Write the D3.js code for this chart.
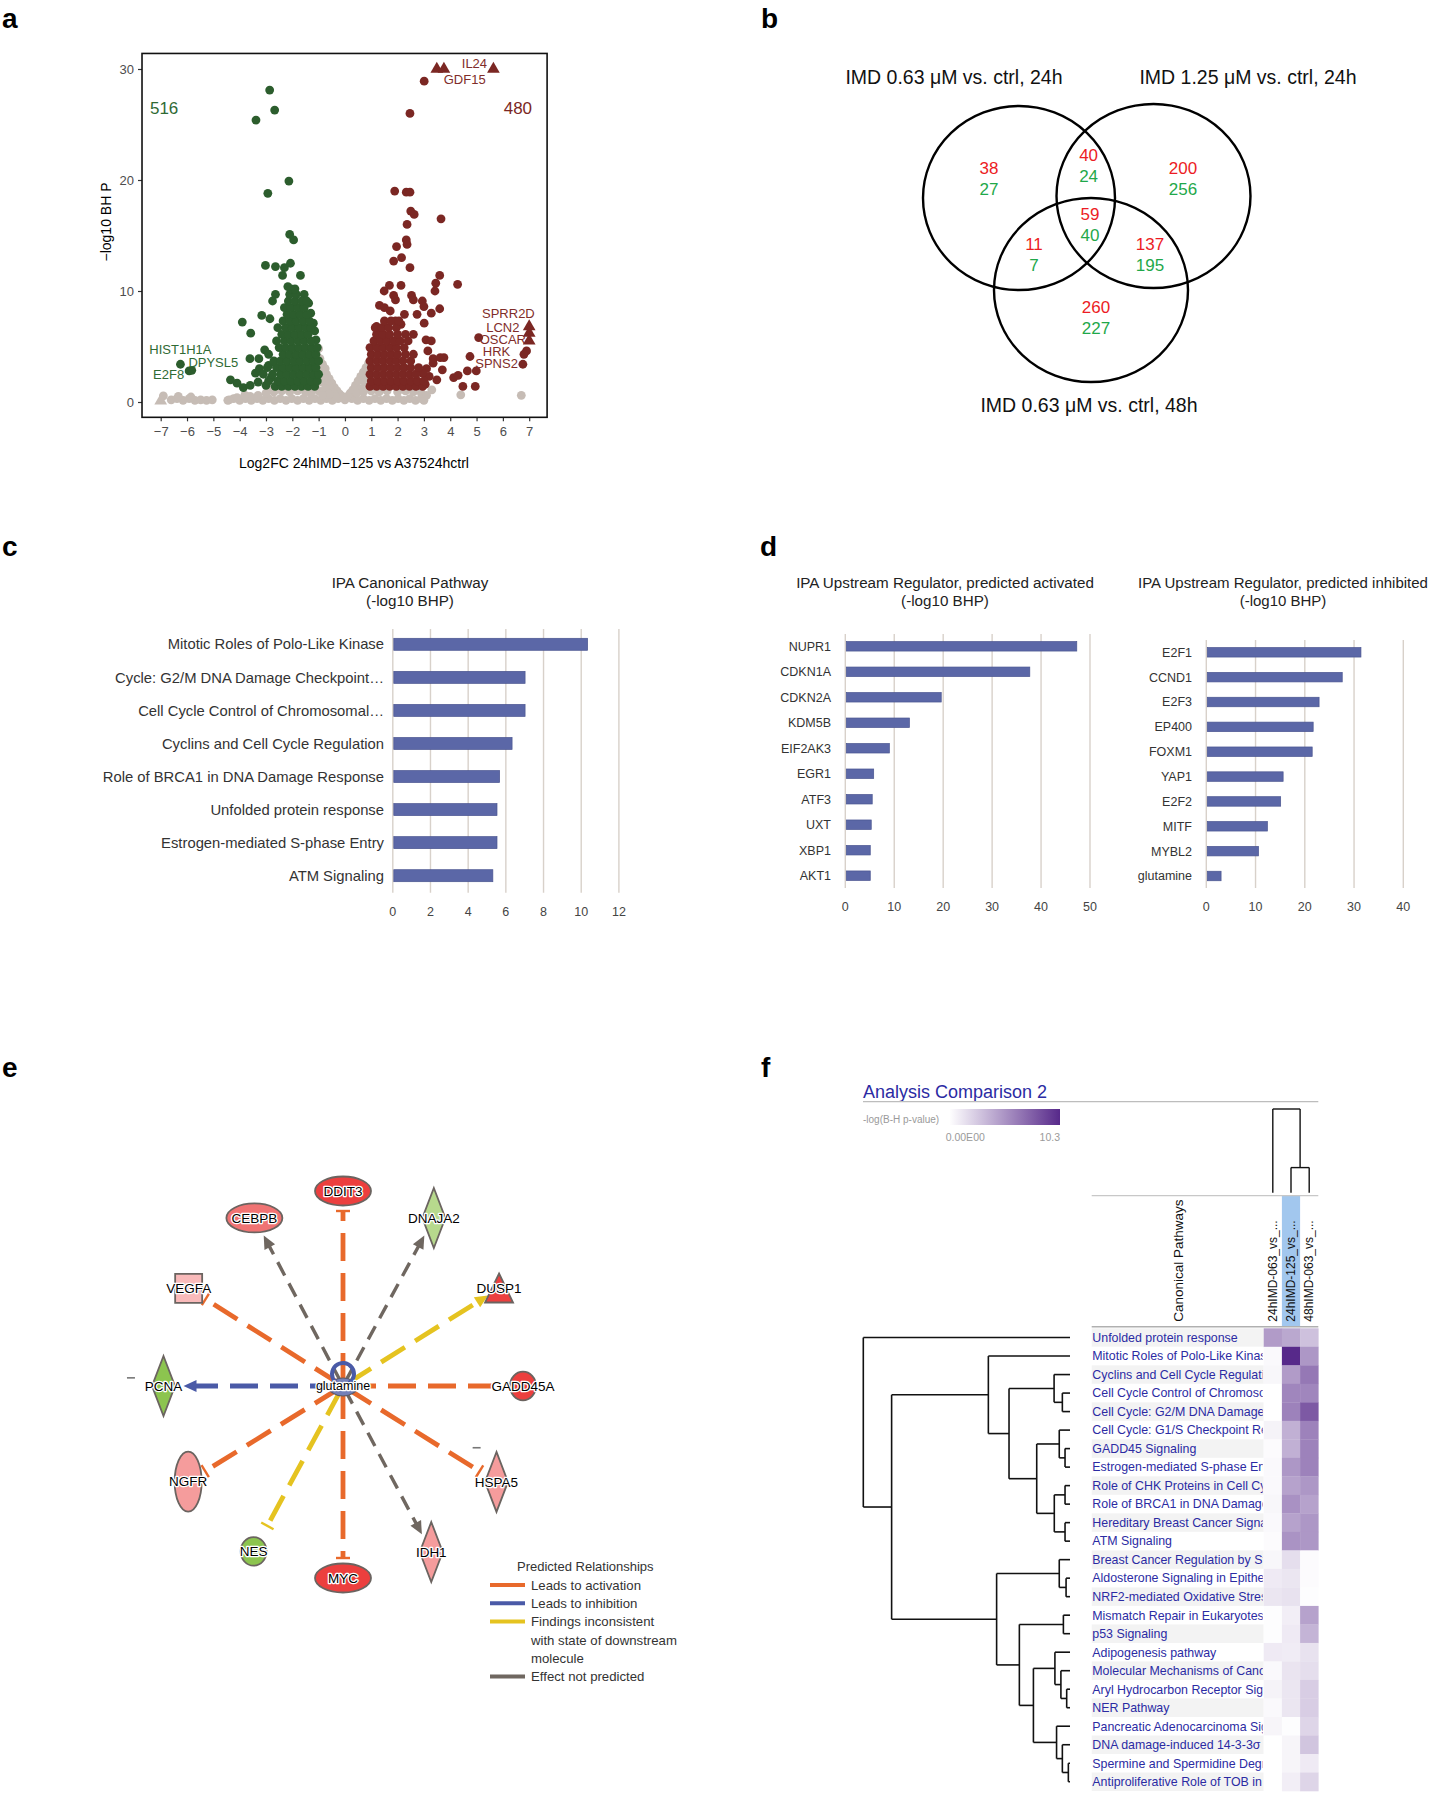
<!DOCTYPE html>
<html><head><meta charset="utf-8">
<script src="https://cdn.jsdelivr.net/npm/d3@7"></script>
<style>
body{margin:0;background:#fff;}
svg{display:block;}
</style></head><body>
<svg id="fig" width="1436" height="1800"></svg>
<script>
// ================= DATA =================
// --- panel a: volcano plot (log2FC, -log10 BH P) ---
const volcanoXTicks = [-7,-6,-5,-4,-3,-2,-1,0,1,2,3,4,5,6,7];
const volcanoYTicks = [0,10,20,30];
const volcanoDown = [
 [-2.86,28.1],[-2.67,26.3],[-3.38,25.4],[-2.13,19.9],[-2.93,18.8],[-2.1,15.1],[-1.95,14.6],[-3.02,12.3],[-2.64,12.2],[-2.3,12.1],
 [-2.07,12.5],[-1.69,11.4],[-2.37,11.4],[-2.17,10.4],[-2.64,9.7],[-1.55,9.7],[-2.75,9.1],[-1.38,8.9],[-3.16,7.8],[-2.85,7.5],
 [-3.9,7.2],[-3.58,6.2],[-3.05,4.7],[-3.27,3.9],[-3.61,3.9],[-3.4,2.6],[-4.35,2.0],[-4.1,1.7],[-3.86,1.3],[-6.25,3.4],[-5.92,2.8],[-5.82,2.85],
 [-3.25,3.0],[-2.9,3.3],[-3.6,1.5],[-3.3,1.8],[-2.8,2.2],[-3.0,1.5],[-2.65,1.4],[-1.3,8.0],[-1.2,7.1],[-1.15,6.4],[-1.1,5.6],
 [-2.4,1.4],[-2.15,1.4],[-1.9,1.4],[-1.65,1.4],[-1.4,1.4],[-1.15,1.4],
 [-2.9,1.9],[-2.55,1.9],[-2.3,1.9],[-2.05,1.9],[-1.8,1.9],[-1.55,1.9],[-1.3,1.9],[-1.05,1.9],
 [-3.1,2.5],[-2.75,2.5],[-2.45,2.5],[-2.2,2.5],[-1.95,2.5],[-1.7,2.5],[-1.45,2.5],[-1.2,2.5],[-1.0,2.5],
 [-2.95,3.1],[-2.6,3.1],[-2.35,3.1],[-2.1,3.1],[-1.85,3.1],[-1.6,3.1],[-1.35,3.1],[-1.1,3.1],
 [-2.7,3.7],[-2.45,3.7],[-2.2,3.7],[-1.95,3.7],[-1.7,3.7],[-1.45,3.7],[-1.2,3.7],[-1.0,3.7],
 [-2.9,4.3],[-2.35,4.3],[-2.1,4.3],[-1.85,4.3],[-1.6,4.3],[-1.35,4.3],[-1.1,4.3],
 [-2.5,4.9],[-2.25,4.9],[-2.0,4.9],[-1.75,4.9],[-1.5,4.9],[-1.25,4.9],[-1.05,4.9],
 [-2.6,5.5],[-2.3,5.5],[-2.05,5.5],[-1.8,5.5],[-1.55,5.5],[-1.3,5.5],
 [-2.4,6.1],[-2.15,6.1],[-1.9,6.1],[-1.65,6.1],[-1.4,6.1],
 [-2.55,6.7],[-2.25,6.7],[-2.0,6.7],[-1.75,6.7],[-1.5,6.7],[-1.3,6.7],
 [-2.35,7.3],[-2.1,7.3],[-1.85,7.3],[-1.6,7.3],[-1.35,7.3],
 [-2.2,7.9],[-1.95,7.9],[-1.7,7.9],[-1.45,7.9],
 [-2.3,8.5],[-2.05,8.5],[-1.8,8.5],[-1.55,8.5],
 [-2.15,9.1],[-1.9,9.1],[-1.65,9.1],[-1.45,9.1],
 [-2.1,9.7],[-1.85,9.7],[-2.05,10.2],[-1.9,10.2]
];
const volcanoUp = [
 [3.01,28.9],[2.47,26.0],[1.89,19.0],[2.33,18.9],[2.47,18.9],[2.5,17.2],[2.63,16.9],[3.65,16.5],[2.36,16.0],[2.33,14.6],
 [2.36,14.2],[1.96,14.0],[2.15,13.0],[1.85,12.7],[2.47,12.1],[3.6,11.4],[4.28,10.6],[3.45,10.7],[1.69,10.5],[2.13,10.5],
 [3.42,10.0],[1.49,10.0],[1.85,9.6],[1.92,9.2],[2.53,9.6],[2.6,9.2],[2.94,9.1],[3.0,8.6],[1.31,8.7],[1.5,8.5],[1.72,8.2],
 [3.6,8.4],[3.28,8.0],[2.26,7.9],[1.92,7.3],[2.13,7.0],[2.74,7.9],[3.01,7.1],[1.2,6.8],[1.31,6.2],[2.6,6.1],[3.08,5.6],
 [3.28,5.5],[3.15,4.6],[3.35,3.9],[3.62,4.0],[3.76,4.0],[3.35,3.5],[3.7,2.9],[3.49,2.0],[4.13,2.2],[4.3,2.4],[4.48,1.4],
 [4.65,2.8],[4.99,2.8],[4.75,4.1],[4.95,1.4],[5.08,5.8],[6.9,4.6],[6.8,4.3],[6.76,3.4],[3.1,3.0],[3.2,2.3],[2.95,2.6],[3.05,1.6],
 [0.95,1.4],[1.2,1.4],[1.45,1.4],[1.7,1.4],[1.95,1.4],[2.2,1.4],[2.45,1.4],[2.7,1.4],[2.95,1.4],
 [1.0,1.9],[1.25,1.9],[1.5,1.9],[1.75,1.9],[2.0,1.9],[2.25,1.9],[2.5,1.9],[2.75,1.9],[3.0,1.9],
 [0.95,2.5],[1.2,2.5],[1.45,2.5],[1.7,2.5],[1.95,2.5],[2.2,2.5],[2.45,2.5],[2.7,2.5],
 [1.0,3.1],[1.25,3.1],[1.5,3.1],[1.75,3.1],[2.0,3.1],[2.25,3.1],[2.5,3.1],[2.8,3.1],
 [0.95,3.7],[1.2,3.7],[1.45,3.7],[1.7,3.7],[1.95,3.7],[2.2,3.7],[2.5,3.7],
 [1.0,4.3],[1.25,4.3],[1.5,4.3],[1.75,4.3],[2.0,4.3],[2.3,4.3],[2.6,4.3],
 [0.95,4.9],[1.2,4.9],[1.45,4.9],[1.7,4.9],[1.95,4.9],[2.25,4.9],
 [1.1,5.5],[1.35,5.5],[1.6,5.5],[1.85,5.5],[2.1,5.5],[2.4,5.5],
 [1.2,6.1],[1.45,6.1],[1.7,6.1],[2.0,6.1],[2.3,6.1],
 [1.15,6.7],[1.4,6.7],[1.65,6.7],[1.95,6.7],[1.5,7.3],[1.75,7.3],[2.05,7.3]
];
const volcanoUpCapped = [[3.49,30],[3.76,30],[5.64,30],[7,6.8],[7,6.2],[7,5.5]];
const volcanoNS = [
 [-6.6,0.2],[-6.38,0.3],[-6.15,0.15],[-5.92,0.3],[-5.7,0.15],[-5.48,0.2],[-5.26,0.15],[-5.04,0.2],
 [-4.45,0.15],[-4.23,0.3],[-4.0,0.15],[-3.78,0.3],[-3.56,0.15],[-3.34,0.3],[-3.12,0.15],[-2.9,0.3],[-2.68,0.15],[-2.46,0.3],
 [-2.24,0.15],[-2.02,0.3],[-1.8,0.15],[-1.58,0.3],[-1.36,0.15],[-1.14,0.3],[-0.92,0.15],[-0.7,0.3],[-0.48,0.15],[-0.26,0.3],
 [0.0,0.2],[0.26,0.3],[0.48,0.15],[0.7,0.3],[0.92,0.15],[1.14,0.3],[1.36,0.15],[1.58,0.3],[1.8,0.15],[2.02,0.3],[2.24,0.15],
 [2.46,0.3],[2.68,0.15],[2.9,0.3],[3.0,0.15],
 [-1.0,4.8],[-1.1,4.3],[-0.95,3.9],[-0.85,3.4],[-0.75,3.0],[-0.7,2.5],[-0.6,2.1],[-0.5,1.7],[-0.4,1.3],[-0.3,1.0],[-0.2,0.7],
 [-0.1,0.5],[-0.9,2.8],[-0.8,2.2],[-0.65,1.6],[-0.55,1.2],[-0.45,0.8],[-0.35,0.5],[-1.0,3.5],[-0.9,1.8],[-0.75,1.2],[-0.6,0.7],
 [-1.0,1.0],[-0.85,0.6],[-1.15,2.0],[-1.2,1.2],[-1.3,0.8],[-1.5,0.9],[-1.8,1.0],[-2.1,0.9],[-2.4,1.0],[-2.7,0.9],[-2.85,1.25],
 [-3.0,0.8],[-3.3,0.6],[-3.6,0.5],[-3.8,0.6],[-4.1,0.4],
 [0.1,0.5],[0.2,0.8],[0.3,1.1],[0.4,1.5],[0.5,1.9],[0.6,2.3],[0.7,2.7],[0.8,3.1],[0.9,3.5],[0.75,1.8],[0.6,1.2],[0.45,0.8],
 [0.85,2.4],[0.95,2.9],[0.9,1.5],[0.7,0.9],[1.0,1.0],[1.3,0.9],[1.6,1.0],[2.0,0.9],[2.3,1.0],[2.6,0.9],[2.9,0.8],[3.1,0.6],[3.3,1.1],
 [-6.9,0.55],[-6.33,0.5],[-5.85,0.45],[-4.4,0.2],[-3.8,0.6],[4.4,0.65],[6.7,0.6]
];
const volcanoNSCapped = [[-7,0.1]];
const volcanoCounts = [{text:"516", x:-6.87, y:26.5, dir:"down"},{text:"480", x:6.57, y:26.5, dir:"up"}];
const volcanoGenes = [
 {gene:"IL24", x:4.92, y:30.5, dir:"up"},{gene:"GDF15", x:4.55, y:29.1, dir:"up"},
 {gene:"SPRR2D", x:6.21, y:8.0, dir:"up"},{gene:"LCN2", x:6.0, y:6.7, dir:"up"},
 {gene:"OSCAR", x:6.0, y:5.6, dir:"up"},{gene:"HRK", x:5.76, y:4.55, dir:"up"},
 {gene:"SPNS2", x:5.76, y:3.45, dir:"up"},{gene:"HIST1H1A", x:-6.25, y:4.7, dir:"down"},
 {gene:"DPYSL5", x:-5.0, y:3.6, dir:"down"},{gene:"E2F8", x:-6.7, y:2.5, dir:"down"}
];

// --- panel b: Venn ---
const vennSets = ["IMD 0.63 μM vs. ctrl, 24h","IMD 1.25 μM vs. ctrl, 24h","IMD 0.63 μM vs. ctrl, 48h"];
const vennRegions = ["A","AB","B","ABC","AC","BC","C"];
const vennUp   = [38,40,200,59,11,137,260];
const vennDown = [27,24,256,40,7,195,227];

// --- panel c: IPA canonical pathways ---
const pathwayNames = ["Mitotic Roles of Polo-Like Kinase","Cycle: G2/M DNA Damage Checkpoint…","Cell Cycle Control of Chromosomal…",
 "Cyclins and Cell Cycle Regulation","Role of BRCA1 in DNA Damage Response","Unfolded protein response",
 "Estrogen-mediated S-phase Entry","ATM Signaling"];
const pathwayValues = [10.34,7.02,7.02,6.33,5.67,5.53,5.53,5.31];
const pathwayTicks = [0,2,4,6,8,10,12];

// --- panel d: upstream regulators ---
const activatedNames = ["NUPR1","CDKN1A","CDKN2A","KDM5B","EIF2AK3","EGR1","ATF3","UXT","XBP1","AKT1"];
const activatedValues = [47.3,37.7,19.6,13.1,9.0,5.8,5.5,5.3,5.1,5.1];
const activatedTicks = [0,10,20,30,40,50];
const inhibitedNames = ["E2F1","CCND1","E2F3","EP400","FOXM1","YAP1","E2F2","MITF","MYBL2","glutamine"];
const inhibitedValues = [31.4,27.6,22.9,21.7,21.5,15.6,15.1,12.4,10.6,3.0];
const inhibitedTicks = [0,10,20,30,40];

// --- panel e: network around glutamine ---
const networkHub = "glutamine";
const networkNodes = ["DDIT3","DNAJA2","DUSP1","GADD45A","HSPA5","IDH1","MYC","NES","NGFR","PCNA","VEGFA","CEBPB"];
const networkShapes = ["ellipseH","diamond","triangle","circle","diamond","diamond","ellipseH","circle","ellipseV","diamond","square","ellipseH"];
const networkState = ["up3","down1","up3","up3","up1","up1","up3","down2","up1","down2","up0","up2"];
const networkRelation = ["activation","none","inconsistent","activation","activation","none","activation","inconsistent","activation","inhibition","activation","none"];
const networkEnd = ["tbar","arrow","arrow","plain","tbar","arrow","tbar","tbar","tbar","arrow","tbar","arrow"];
const legendRelations = [["Leads to activation"],["Leads to inhibition"],["Findings inconsistent","with state of downstream","molecule"],["Effect not predicted"]];
const legendKeys = ["activation","inhibition","inconsistent","none"];

// --- panel f: comparison heatmap ---
const heatColumns = ["24hIMD-063_vs_...","24hIMD-125_vs_...","48hIMD-063_vs_..."];
const heatRows = ["Unfolded protein response","Mitotic Roles of Polo-Like Kinase","Cyclins and Cell Cycle Regulation",
 "Cell Cycle Control of Chromosomal Replication","Cell Cycle: G2/M DNA Damage Checkpoint Regulation",
 "Cell Cycle: G1/S Checkpoint Regulation","GADD45 Signaling","Estrogen-mediated S-phase Entry",
 "Role of CHK Proteins in Cell Cycle Checkpoint Control","Role of BRCA1 in DNA Damage Response",
 "Hereditary Breast Cancer Signaling","ATM Signaling","Breast Cancer Regulation by Stathmin1",
 "Aldosterone Signaling in Epithelial Cells","NRF2-mediated Oxidative Stress Response","Mismatch Repair in Eukaryotes",
 "p53 Signaling","Adipogenesis pathway","Molecular Mechanisms of Cancer","Aryl Hydrocarbon Receptor Signaling",
 "NER Pathway","Pancreatic Adenocarcinoma Signaling","DNA damage-induced 14-3-3σ Signaling",
 "Spermine and Spermidine Degradation I","Antiproliferative Role of TOB in T Cell Signaling"];
const heat24h063 = [4.8,0.3,0.4,0,0,0.6,0.2,0.3,0.3,0.4,0.3,0.2,0.4,1.0,1.2,0.1,0.1,1.0,0.3,0.6,0.3,0.5,0,0,0];
const heat24h125 = [4.2,10.3,4.8,5.8,6.0,3.8,3.8,5.0,4.5,5.3,4.5,5.2,1.6,1.2,1.4,0.8,1.0,0.9,1.3,1.2,1.2,0.1,0.5,0.5,0.8];
const heat48h063 = [3.0,5.0,6.5,5.8,8.0,6.0,6.0,6.0,5.0,4.5,5.0,5.0,0.2,0.2,0.1,4.5,3.6,1.4,1.6,2.4,2.4,2.0,2.8,1.0,2.0];
const heatMax = 10.3;
// row dendrogram: leaves are indices into heatRows, h = merge distance
const rowTree = {h:1.0, c:[0, {h:0.863, c:[
  {h:0.395, c:[1, {h:0.295, c:[
     {h:0.077, c:[2, {h:0.037, c:[3,4]}]},
     {h:0.161, c:[ {h:0.052, c:[5, {h:0.024, c:[6,7]}]}, {h:0.076, c:[{h:0.024, c:[8,9]}, {h:0.024, c:[10,11]}]} ]}
  ]}]},
  {h:0.355, c:[
     {h:0.052, c:[12, {h:0.019, c:[13,14]}]},
     {h:0.245, c:[ {h:0.032, c:[15,16]},
        {h:0.177, c:[ {h:0.073, c:[17, {h:0.044, c:[18, {h:0.016, c:[19,20]}]}]},
                      {h:0.065, c:[21, {h:0.037, c:[22, {h:0.008, c:[23,24]}]}]} ]} ]}
  ]}
]}]};
const colTree = {h:1.0, c:[0, {h:0.30, c:[1,2]}]};

// ================= DRAWING =================
const FONT = "'Liberation Sans', Arial, Helvetica, sans-serif";
const svg = d3.select("#fig").style("font-family", FONT);
svg.append("rect").attr("width",1436).attr("height",1800).attr("fill","#fff");

// panel letters
[["a",2,28],["b",761,28],["c",2,556],["d",760,556],["e",2,1077],["f",761,1077]].forEach(([t,x,y])=>{
  svg.append("text").attr("x",x).attr("y",y).text(t).attr("font-weight","bold").attr("font-size",28).attr("fill","#000");
});

// ---------- Panel a ----------
(function(){
  const GREEN="#2c5d2d", RED="#7b2723", GREY="#c6bcb5";
  const xA = d3.scaleLinear().domain([-7,7]).range([160.7,529.2]);
  const yA = d3.scaleLinear().domain([0,30]).range([402,69]);
  const g = svg.append("g");
  const fx0=xA(-7.71), fx1=xA(7.68), fy0=yA(31.4), fy1=yA(-1.38);
  const styleAxis = a => { a.select(".domain").remove();
    a.selectAll("line").attr("stroke","#333").attr("stroke-width",1.2);
    a.selectAll("text").attr("fill","#4d4d4d").attr("font-size",13).attr("font-family",FONT); };
  g.append("g").attr("transform",`translate(0,${fy1})`)
    .call(d3.axisBottom(xA).tickValues(volcanoXTicks).tickSize(4).tickPadding(5)).call(styleAxis);
  g.append("g").attr("transform",`translate(${fx0},0)`)
    .call(d3.axisLeft(yA).tickValues(volcanoYTicks).tickSize(4).tickPadding(4)).call(styleAxis);
  const dot = (data, col) => g.append("g").selectAll("circle").data(data).join("circle")
      .attr("cx",d=>xA(d[0])).attr("cy",d=>yA(d[1])).attr("r",4.4).attr("fill",col);
  dot(volcanoNS, GREY);
  dot(volcanoDown, GREEN);
  dot(volcanoUp, RED);
  g.append("g").selectAll("text").data(volcanoGenes).join("text")
    .attr("x",d=>xA(d.x)).attr("y",d=>yA(d.y)).attr("dy","0.35em").attr("text-anchor","middle")
    .attr("font-size",13).attr("fill",d=>d.dir==="up"?"#7f2d2a":"#2f6a34").text(d=>d.gene);
  const tri = d3.symbol(d3.symbolTriangle, 70);
  g.append("g").selectAll("path").data(volcanoUpCapped).join("path").attr("d",tri)
    .attr("transform",d=>`translate(${xA(d[0])},${yA(d[1])})`).attr("fill",RED);
  g.append("g").selectAll("path").data(volcanoNSCapped).join("path").attr("d",tri)
    .attr("transform",d=>`translate(${xA(d[0])},${yA(d[1])})`).attr("fill",GREY);
  g.append("g").selectAll("text").data(volcanoCounts).join("text")
    .attr("x",d=>xA(d.x)).attr("y",d=>yA(d.y)).attr("dy","0.35em").attr("text-anchor","middle")
    .attr("font-size",17).attr("fill",d=>d.dir==="up"?RED:"#2f6a34").text(d=>d.text);
  g.append("rect").attr("x",fx0).attr("y",fy0).attr("width",fx1-fx0).attr("height",fy1-fy0)
    .attr("fill","none").attr("stroke","#111").attr("stroke-width",1.6);
  g.append("text").attr("x",354).attr("y",463).attr("dy","0.35em").attr("text-anchor","middle")
    .attr("font-size",14).text("Log2FC 24hIMD\u2212125 vs A37524hctrl");
  g.append("text").attr("transform","translate(106,222) rotate(-90)").attr("dy","0.35em").attr("text-anchor","middle")
    .attr("font-size",14).text("\u2212log10 BH P");
})();

// ---------- Panel b ----------
(function(){
  const g = svg.append("g");
  const circles = [{cx:1019,cy:198,rx:96,ry:92},{cx:1153.5,cy:196,rx:97,ry:92},{cx:1091,cy:290,rx:97,ry:92}];
  g.selectAll("ellipse").data(circles).join("ellipse")
    .attr("cx",d=>d.cx).attr("cy",d=>d.cy).attr("rx",d=>d.rx).attr("ry",d=>d.ry)
    .attr("fill","none").attr("stroke","#000").attr("stroke-width",2.4);
  const titlePos = [[954,77],[1248,77],[1089,405]];
  g.selectAll("text.t").data(vennSets).join("text").attr("class","t")
    .attr("x",(d,i)=>titlePos[i][0]).attr("y",(d,i)=>titlePos[i][1]).attr("dy","0.35em")
    .attr("text-anchor","middle").attr("font-size",19.5).attr("fill","#111").text(d=>d);
  const regionPos = {A:[989,178.5],AB:[1088.6,165.5],B:[1183,178.5],ABC:[1090,224.5],AC:[1034,254.5],BC:[1150,254.5],C:[1096,317.5]};
  vennRegions.forEach((r,i)=>{
    const [x,y]=regionPos[r];
    g.append("text").attr("x",x).attr("y",y-10.5).attr("dy","0.35em").attr("text-anchor","middle")
      .attr("font-size",17).attr("fill","#ec1c24").text(vennUp[i]);
    g.append("text").attr("x",x).attr("y",y+10.5).attr("dy","0.35em").attr("text-anchor","middle")
      .attr("font-size",17).attr("fill","#1fa84a").text(vennDown[i]);
  });
})();

// ---------- bar chart helper (panels c, d) ----------
const BAR="#5b67a7", GRID="#d8d1ca";
function barChart(o){
  const g = svg.append("g");
  const x = d3.scaleLinear().domain([0,o.ticks[o.ticks.length-1]]).range(o.xr);
  const y = d3.scalePoint().domain(o.names).range(o.yr);
  g.selectAll("line.grid").data(o.ticks).join("line").attr("class","grid")
    .attr("x1",d=>x(d)).attr("x2",d=>x(d)).attr("y1",o.gy[0]).attr("y2",o.gy[1])
    .attr("stroke",GRID).attr("stroke-width",1.4);
  g.selectAll("rect").data(o.values).join("rect")
    .attr("x",x(0)+1).attr("y",(d,i)=>y(o.names[i])-o.bh/2).attr("width",d=>x(d)-x(0)-1).attr("height",o.bh)
    .attr("fill",BAR).attr("stroke","#4a5590").attr("stroke-width",0.7);
  g.selectAll("text.cat").data(o.names).join("text").attr("class","cat")
    .attr("x",o.lx).attr("y",d=>y(d)).attr("dy","0.35em").attr("text-anchor","end")
    .attr("font-size",o.fs).attr("fill","#333").text(d=>d);
  g.selectAll("text.tick").data(o.ticks).join("text").attr("class","tick")
    .attr("x",d=>x(d)).attr("y",o.ty).attr("dy","0.35em").attr("text-anchor","middle")
    .attr("font-size",12.5).attr("fill","#444").text(d=>d);
  o.title.forEach((t,i)=>g.append("text").attr("x",o.tx).attr("y",582.5+i*18).attr("dy","0.35em")
    .attr("text-anchor","middle").attr("font-size",o.tfs).attr("fill","#222").text(t));
}
barChart({names:pathwayNames, values:pathwayValues, ticks:pathwayTicks, xr:[392.8,618.9], yr:[644.3,875.7],
  gy:[629,892.7], bh:12, lx:384, fs:14.8, ty:911.7, tx:410, tfs:15.2, title:["IPA Canonical Pathway","(-log10 BHP)"]});
barChart({names:activatedNames, values:activatedValues, ticks:activatedTicks, xr:[845.3,1090], yr:[646.3,875.7],
  gy:[634,888], bh:9.5, lx:831, fs:12.5, ty:906.7, tx:945, tfs:15.2, title:["IPA Upstream Regulator, predicted activated","(-log10 BHP)"]});
barChart({names:inhibitedNames, values:inhibitedValues, ticks:inhibitedTicks, xr:[1206.3,1403.3], yr:[652.3,876],
  gy:[640,888], bh:9.5, lx:1192, fs:12.5, ty:906.7, tx:1283, tfs:15, title:["IPA Upstream Regulator, predicted inhibited","(-log10 BHP)"]});

// ---------- Panel e ----------
(function(){
  const g = svg.append("g");
  const C = [343,1386];
  const layout = {DDIT3:[0,195],DNAJA2:[28.4,191],DUSP1:[58,184],GADD45A:[90,180],HSPA5:[122,181],IDH1:[152,188],
    MYC:[180,192],NES:[-151.6,188],NGFR:[-121.7,182],PCNA:[-90,179.5],VEGFA:[-57.7,182.6],CEBPB:[-27.8,190]};
  const pos = (a,r)=>{ const p=d3.pointRadial(a*Math.PI/180,r); return [C[0]+p[0],C[1]+p[1]]; };
  const relColor = {activation:"#e8692b",inhibition:"#4a5aa7",inconsistent:"#e5c320",none:"#6f6760"};
  const fillState = {up3:"#ec3f3e",up2:"#f07373",up1:"#f59c9c",up0:"#f9baba",down2:"#8cc44f",down1:"#b7d98d"};
  const endGap = {triangle:13, circle:29};
  // edges
  networkNodes.forEach((n,i)=>{
    const [a,r]=layout[n]; const rel=networkRelation[i]; const col=relColor[rel]; const end=networkEnd[i];
    const rEnd = r - (endGap[networkShapes[i]] || 20);
    const lineEnd = end==="arrow" ? rEnd-9 : rEnd;
    const p0=pos(a,5), p1=pos(a,lineEnd);
    g.append("line").attr("x1",p0[0]).attr("y1",p0[1]).attr("x2",p1[0]).attr("y2",p1[1])
      .attr("stroke",col).attr("stroke-width",rel==="none"?3.4:4.8)
      .attr("stroke-dasharray",rel==="none"?"15 9":"28 12");
    const rad=a*Math.PI/180, ux=Math.sin(rad), uy=-Math.cos(rad), px=-uy, py=ux;
    const tip=pos(a,rEnd);
    if(end==="arrow"){
      const b=pos(a,rEnd-13);
      g.append("path").attr("d",`M${tip[0]},${tip[1]}L${b[0]+px*6},${b[1]+py*6}L${b[0]-px*6},${b[1]-py*6}Z`).attr("fill",col);
    } else if(end==="tbar"){
      g.append("line").attr("x1",tip[0]+px*7).attr("y1",tip[1]+py*7).attr("x2",tip[0]-px*7).attr("y2",tip[1]-py*7)
        .attr("stroke",col).attr("stroke-width",2.4);
    }
  });
  // small marks
  [[-87.8,212.2],[114.8,147.2]].forEach(([a,r])=>{ const p=pos(a,r);
    g.append("line").attr("x1",p[0]-4).attr("x2",p[0]+4).attr("y1",p[1]).attr("y2",p[1]).attr("stroke","#777").attr("stroke-width",1.6);});
  // nodes
  const shapePath = {
    ellipseH:"M-28,0A28,14.5 0 1,0 28,0A28,14.5 0 1,0 -28,0Z",
    ellipseV:"M-13.5,0A13.5,30 0 1,0 13.5,0A13.5,30 0 1,0 -13.5,0Z",
    diamond:"M0,-30L11.5,0L0,30L-11.5,0Z",
    triangle:"M0,-15L14,14L-14,14Z",
    circle:"M-13,0A13,14.3 0 1,0 13,0A13,14.3 0 1,0 -13,0Z",
    square:"M-13.5,-14.5H13.5V14.5H-13.5Z"
  };
  networkNodes.forEach((n,i)=>{
    const [a,r]=layout[n]; const p=pos(a,r);
    g.append("path").attr("d",shapePath[networkShapes[i]]).attr("transform",`translate(${p[0]},${p[1]})`)
      .attr("fill",fillState[networkState[i]]).attr("stroke","#6b6460").attr("stroke-width",1.8);
  });
  // hub
  g.append("ellipse").attr("cx",C[0]).attr("cy",C[1]+1).attr("rx",14).attr("ry",9).attr("fill","#7480b8").attr("stroke","#5b5b6b").attr("stroke-width",1.2);
  g.append("path").attr("d",d3.arc()({innerRadius:9,outerRadius:13,startAngle:-2.4,endAngle:2.6}))
    .attr("transform",`translate(${C[0]},${C[1]-12})`).attr("fill","#4a5aa7");
  const labels = networkNodes.map((n,i)=>({n, p:pos(...layout[n])}));
  labels.push({n:networkHub, p:C});
  g.selectAll("text.lab").data(labels).join("text").attr("class","lab")
    .attr("x",d=>d.p[0]).attr("y",d=>d.p[1]).attr("dy","0.35em").attr("text-anchor","middle")
    .attr("font-size",d=>d.n===networkHub?12.5:13.5).attr("fill","#000")
    .attr("stroke","#fff").attr("stroke-width",2.6).attr("paint-order","stroke").attr("stroke-linejoin","round")
    .text(d=>d.n);
  // legend
  const lg = svg.append("g");
  lg.append("text").attr("x",517).attr("y",1566.7).attr("dy","0.35em").attr("font-size",13).attr("fill","#333").text("Predicted Relationships");
  let yy=1585;
  legendRelations.forEach((lines,i)=>{
    lg.append("line").attr("x1",490).attr("x2",525).attr("y1",yy).attr("y2",yy).attr("stroke",relColor[legendKeys[i]]).attr("stroke-width",4);
    lines.forEach((t,j)=>lg.append("text").attr("x",531).attr("y",yy+j*18.3).attr("dy","0.35em").attr("font-size",13.2).attr("fill","#333").text(t));
    yy += lines.length*18.3;
  });
})();

// ---------- Panel f ----------
(function(){
  const g = svg.append("g");
  const NAVY="#2b2ba3";
  g.append("text").attr("x",863).attr("y",1097.5).attr("font-size",18).attr("fill",NAVY).text("Analysis Comparison 2");
  g.append("line").attr("x1",863).attr("x2",1318.3).attr("y1",1101.7).attr("y2",1101.7).attr("stroke","#bdbdbd").attr("stroke-width",1.3);
  const color = d3.scaleLinear().domain([0,heatMax]).range(["#ffffff","#57298a"]);
  const defs = svg.append("defs");
  const grad = defs.append("linearGradient").attr("id","pg");
  grad.append("stop").attr("offset","0%").attr("stop-color",color(0));
  grad.append("stop").attr("offset","100%").attr("stop-color",color(heatMax));
  g.append("text").attr("x",863).attr("y",1119).attr("dy","0.35em").attr("font-size",10).attr("fill","#9a9a9a").text("-log(B-H p-value)");
  g.append("rect").attr("x",949.3).attr("y",1109).attr("width",110.7).attr("height",16).attr("fill","url(#pg)");
  g.append("text").attr("x",945.7).attr("y",1137).attr("dy","0.35em").attr("font-size",10.5).attr("fill","#9a9a9a").text("0.00E00");
  g.append("text").attr("x",1060).attr("y",1137).attr("dy","0.35em").attr("text-anchor","end").attr("font-size",10.5).attr("fill","#9a9a9a").text(heatMax);

  const xCol = d3.scaleBand().domain(heatColumns).range([1263.7,1318.3]);
  const yRow = d3.scaleBand().domain(heatRows).range([1328.3,1791]);
  // header
  g.append("rect").attr("x",xCol(heatColumns[1])).attr("y",1195.7).attr("width",xCol.bandwidth()).attr("height",131)
    .attr("fill","#a2c7ee");
  g.append("line").attr("x1",1091.7).attr("x2",1318.3).attr("y1",1195.7).attr("y2",1195.7).attr("stroke","#c8c8c8").attr("stroke-width",1.3);
  g.append("line").attr("x1",1091.7).attr("x2",1318.3).attr("y1",1326.8).attr("y2",1326.8).attr("stroke","#b0b0b0").attr("stroke-width",1.5);
  g.append("text").attr("transform","translate(1178,1321.7) rotate(-90)").attr("dy","0.35em").attr("font-size",13.5).attr("fill","#111").text("Canonical Pathways");
  heatColumns.forEach(c=>g.append("text").attr("transform",`translate(${xCol(c)+xCol.bandwidth()/2},1321.7) rotate(-90)`)
    .attr("dy","0.35em").attr("font-size",12).attr("fill","#111").text(c));
  // row backgrounds + labels
  const clip = defs.append("clipPath").attr("id","rowclip");
  clip.append("rect").attr("x",1091).attr("y",1320).attr("width",171.7).attr("height",480);
  g.selectAll("rect.bg").data(heatRows).join("rect").attr("class","bg")
    .attr("x",1091.7).attr("y",d=>yRow(d)).attr("width",172).attr("height",yRow.bandwidth())
    .attr("fill",(d,i)=>i%2===0?"#f3f3f3":"#ffffff");
  g.append("g").attr("clip-path","url(#rowclip)").selectAll("text").data(heatRows).join("text")
    .attr("x",1092.3).attr("y",d=>yRow(d)+yRow.bandwidth()/2).attr("dy","0.35em")
    .attr("font-size",12.4).attr("fill",NAVY).text(d=>d);
  // cells
  const cols = [heat24h063, heat24h125, heat48h063];
  cols.forEach((vals,ci)=>{
    g.append("g").selectAll("rect").data(vals).join("rect")
      .attr("x",xCol(heatColumns[ci])).attr("y",(d,ri)=>yRow(heatRows[ri])).attr("width",xCol.bandwidth()+0.3).attr("height",yRow.bandwidth()+0.3)
      .attr("fill",d=>color(d));
  });
  // row dendrogram
  const xDen = d3.scaleLinear().domain([0,1]).range([1070,863.3]);
  const root = d3.hierarchy(rowTree, d => typeof d === "object" ? d.c : null);
  root.eachAfter(n=>{
    if(!n.children){ n.py = yRow(heatRows[n.data]) + yRow.bandwidth()/2; n.px = xDen(0); }
    else { n.py = d3.mean(n.children, c=>c.py); n.px = xDen(n.data.h); }
  });
  const dg = g.append("g").attr("stroke","#111").attr("stroke-width",1.6).attr("fill","none");
  root.each(n=>{
    if(n.children){
      dg.append("line").attr("x1",n.px).attr("x2",n.px).attr("y1",d3.min(n.children,c=>c.py)).attr("y2",d3.max(n.children,c=>c.py));
      n.children.forEach(c=>dg.append("line").attr("x1",n.px).attr("x2",c.px).attr("y1",c.py).attr("y2",c.py));
    }
  });
  // column dendrogram
  const yDen = d3.scaleLinear().domain([0,1]).range([1192.7,1109]);
  const croot = d3.hierarchy(colTree, d => typeof d === "object" ? d.c : null);
  croot.eachAfter(n=>{
    if(!n.children){ n.px = xCol(heatColumns[n.data]) + xCol.bandwidth()/2; n.py = yDen(0); }
    else { n.px = d3.mean(n.children, c=>c.px); n.py = yDen(n.data.h); }
  });
  const cg = g.append("g").attr("stroke","#111").attr("stroke-width",1.4);
  croot.each(n=>{
    if(n.children){
      cg.append("line").attr("y1",n.py).attr("y2",n.py).attr("x1",d3.min(n.children,c=>c.px)).attr("x2",d3.max(n.children,c=>c.px));
      n.children.forEach(c=>cg.append("line").attr("y1",n.py).attr("y2",c.py).attr("x1",c.px).attr("x2",c.px));
    }
  });
})();
</script>
</body></html>
